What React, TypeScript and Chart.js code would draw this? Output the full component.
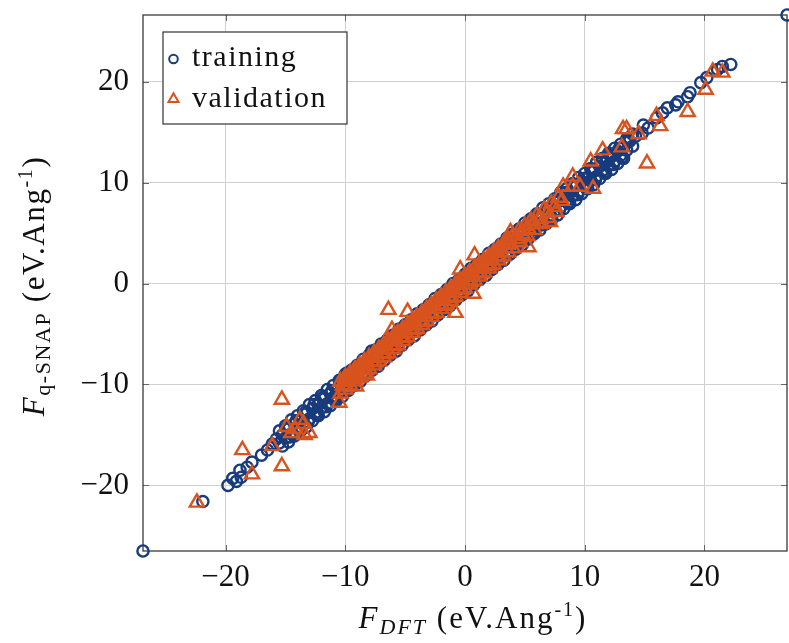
import React, { useEffect, useRef } from "react";
import { Chart, registerables } from "chart.js";

Chart.register(...registerables);

const xTicks = [-20, -10, 0, 10, 20];
const yTicks = [-20, -10, 0, 10, 20];
const xRange = [-26.9, 26.9];
const yRange = [-26.5, 26.6];

const seriesNames = ["training", "validation"];

// sparse / outlying training points
const trainingSparse: [number, number][] = [
  [-26.9, -26.5], [26.9, 26.6], [-21.9, -21.6],
  [-19.8, -20.0], [-19.4, -19.3], [-19.1, -19.6], [-18.8, -18.5], [-18.7, -19.2],
  [-18.2, -18.2], [-17.8, -17.7], [-17.0, -17.0], [-16.5, -16.5], [-16.1, -15.9],
  [-7.8, -6.7], [-9.9, -8.9],
  [14.8, 14.9], [15.3, 15.4], [14.9, 15.7], [16.0, 16.4], [16.5, 16.9], [16.9, 17.4],
  [17.6, 17.7], [17.8, 18.0], [18.6, 18.5], [18.8, 18.9], [19.7, 19.9], [20.2, 20.4],
  [21.1, 21.2], [21.5, 21.5], [22.2, 21.7],
];

// dense training band (read as overlapping strands)
const trainingBandA: [number, number][] = [
  [-15.5, -14.6], [-15.0, -14.1], [-14.5, -13.5], [-14.0, -13.1], [-13.5, -12.6], [-13.0, -12.0],
  [-12.5, -11.6], [-12.0, -11.1], [-11.5, -10.5], [-11.0, -10.1], [-10.5, -9.6], [-10.0, -9.0],
  [-9.5, -8.6], [-9.0, -8.1], [-8.5, -7.5], [-8.0, -7.1], [-7.5, -6.6], [-7.0, -6.0],
  [-6.5, -5.6], [-6.0, -5.1], [-5.5, -4.5], [-5.0, -4.1], [-4.5, -3.6], [-4.0, -3.0],
  [-3.5, -2.6], [-3.0, -2.1], [-2.5, -1.5], [-2.0, -1.1], [-1.5, -0.6], [-1.0, 0.0],
  [-0.5, 0.4], [0.0, 0.9], [0.5, 1.5], [1.0, 1.9], [1.5, 2.4], [2.0, 3.0], [2.5, 3.4],
  [3.0, 3.9], [3.5, 4.5], [4.0, 4.9], [4.5, 5.4], [5.0, 6.0], [5.5, 6.4], [6.0, 6.9],
  [6.5, 7.5], [7.0, 7.9], [7.5, 8.4], [8.0, 9.0], [8.5, 9.4], [9.0, 9.9], [9.5, 10.5],
  [10.0, 10.9], [10.5, 11.4], [11.0, 12.0], [11.5, 12.4], [12.0, 12.9], [12.5, 13.4],
  [13.0, 13.8], [13.5, 14.3], [14.0, 14.8],
];
const trainingBandB: [number, number][] = [
  [-15.75, -15.4], [-15.25, -15.0], [-14.75, -14.4], [-14.25, -13.9], [-13.75, -13.5], [-13.25, -12.9],
  [-12.75, -12.4], [-12.25, -12.0], [-11.75, -11.4], [-11.25, -10.9], [-10.75, -10.5], [-10.25, -9.9],
  [-9.75, -9.4], [-9.25, -9.0], [-8.75, -8.4], [-8.25, -7.9], [-7.75, -7.5], [-7.25, -6.9],
  [-6.75, -6.4], [-6.25, -6.0], [-5.75, -5.4], [-5.25, -4.9], [-4.75, -4.5], [-4.25, -3.9],
  [-3.75, -3.4], [-3.25, -3.0], [-2.75, -2.4], [-2.25, -1.9], [-1.75, -1.5], [-1.25, -0.9],
  [-0.75, -0.4], [-0.25, 0.0], [0.25, 0.6], [0.75, 1.1], [1.25, 1.5], [1.75, 2.1], [2.25, 2.6],
  [2.75, 3.0], [3.25, 3.6], [3.75, 4.1], [4.25, 4.5], [4.75, 5.1], [5.25, 5.6], [5.75, 6.0],
  [6.25, 6.6], [6.75, 7.1], [7.25, 7.5], [7.75, 8.1], [8.25, 8.6], [8.75, 9.0], [9.25, 9.6],
  [9.75, 10.1], [10.25, 10.5], [10.75, 11.1], [11.25, 11.6], [11.75, 12.0], [12.25, 12.6],
  [12.75, 13.1], [13.25, 13.5], [13.75, 14.1], [14.25, 14.6],
];
const trainingBandC: [number, number][] = [
  [-15.5, -15.8], [-15.0, -15.3], [-14.5, -14.9], [-14.0, -14.3], [-13.5, -13.8], [-13.0, -13.4],
  [-12.5, -12.8], [-12.0, -12.3], [-11.5, -11.9], [-11.0, -11.3], [-10.5, -10.8], [-10.0, -10.4],
  [-9.5, -9.8], [-9.0, -9.3], [-8.5, -8.9], [-8.0, -8.3], [-7.5, -7.8], [-7.0, -7.4],
  [-6.5, -6.8], [-6.0, -6.3], [-5.5, -5.9], [-5.0, -5.3], [-4.5, -4.8], [-4.0, -4.4],
  [-3.5, -3.8], [-3.0, -3.3], [-2.5, -2.9], [-2.0, -2.3], [-1.5, -1.8], [-1.0, -1.4],
  [-0.5, -0.8], [0.0, -0.3], [0.5, 0.1], [1.0, 0.7], [1.5, 1.2], [2.0, 1.6], [2.5, 2.2],
  [3.0, 2.7], [3.5, 3.1], [4.0, 3.7], [4.5, 4.2], [5.0, 4.6], [5.5, 5.2], [6.0, 5.7],
  [6.5, 6.1], [7.0, 6.7], [7.5, 7.2], [8.0, 7.6], [8.5, 8.2], [9.0, 8.7], [9.5, 9.1],
  [10.0, 9.7], [10.5, 10.2], [11.0, 10.6], [11.5, 11.2], [12.0, 11.7], [12.5, 12.1],
  [13.0, 12.7], [13.5, 13.2], [14.0, 13.6],
];
const trainingBandD: [number, number][] = [
  [-15.25, -16.1], [-14.75, -15.7], [-14.25, -15.1], [-13.75, -14.6], [-13.25, -14.2], [-12.75, -13.6],
  [-12.25, -13.1], [-11.75, -12.7], [-11.25, -12.1], [-10.75, -11.6], [-10.25, -11.2], [-9.75, -10.6],
  [-9.25, -10.1], [-8.75, -9.7], [-8.25, -9.1], [-7.75, -8.6], [-7.25, -8.2], [-6.75, -7.6],
  [-6.25, -7.1], [-5.75, -6.7], [-5.25, -6.1], [-4.75, -5.6], [-4.25, -5.2], [-3.75, -4.6],
  [-3.25, -4.1], [-2.75, -3.7], [-2.25, -3.1], [-1.75, -2.6], [-1.25, -2.2], [-0.75, -1.6],
  [-0.25, -1.1], [0.25, -0.7], [0.75, -0.1], [1.25, 0.4], [1.75, 0.8], [2.25, 1.4], [2.75, 1.9],
  [3.25, 2.3], [3.75, 2.9], [4.25, 3.4], [4.75, 3.8], [5.25, 4.4], [5.75, 4.9], [6.25, 5.3],
  [6.75, 5.9], [7.25, 6.4], [7.75, 6.8], [8.25, 7.4], [8.75, 7.9], [9.25, 8.3], [9.75, 8.9],
  [10.25, 9.4], [10.75, 9.8], [11.25, 10.4], [11.75, 10.9], [12.25, 11.3], [12.75, 11.9],
  [13.25, 12.4],
];
const trainingBandE: [number, number][] = [
  [-14.9, -14.3], [-14.1, -13.6], [-13.3, -12.7], [-12.6, -12.0], [-11.9, -11.3], [-11.1, -10.6],
  [-10.4, -9.8], [-9.6, -9.0], [-8.9, -8.3], [-8.1, -7.6], [-7.4, -6.8], [-6.6, -6.0],
  [-5.9, -5.3], [-5.1, -4.6], [-4.4, -3.8], [-3.6, -3.0], [-2.9, -2.3], [-2.1, -1.6],
  [-1.4, -0.8], [-0.6, 0.0], [0.1, 0.7], [0.9, 1.4], [1.6, 2.2], [2.4, 3.0], [3.1, 3.7],
  [3.9, 4.4], [4.6, 5.2], [5.4, 6.0], [6.1, 6.7], [6.9, 7.4], [7.6, 8.2], [8.4, 9.0],
  [9.1, 9.7], [9.9, 10.4], [10.6, 11.2], [11.4, 12.0], [12.1, 12.7], [12.9, 13.4], [13.6, 14.2],
];
const trainingBandF: [number, number][] = [
  [-14.6, -15.2], [-13.9, -14.5], [-13.1, -13.7], [-12.4, -13.0], [-11.6, -12.2], [-10.9, -11.5],
  [-10.1, -10.7], [-9.4, -10.0], [-8.6, -9.2], [-7.9, -8.5], [-7.1, -7.7], [-6.4, -7.0],
  [-5.6, -6.2], [-4.9, -5.5], [-4.1, -4.7], [-3.4, -4.0], [-2.6, -3.2], [-1.9, -2.5],
  [-1.1, -1.7], [-0.4, -1.0], [0.4, -0.2], [1.1, 0.5], [1.9, 1.3], [2.6, 2.0], [3.4, 2.8],
  [4.1, 3.5], [4.9, 4.3], [5.6, 5.0], [6.4, 5.8], [7.1, 6.5], [7.9, 7.3], [8.6, 8.0],
  [9.4, 8.8], [10.1, 9.5], [10.9, 10.3], [11.6, 11.0], [12.4, 11.8], [13.1, 12.5],
];

// outlying validation points
const validationSparse: [number, number][] = [
  [-22.4, -21.7], [-18.6, -16.5], [-17.8, -18.9], [-16.1, -16.1], [-15.3, -11.5], [-15.3, -18.1],
  [-14.9, -14.2], [-14.5, -14.8], [-14.2, -14.4], [-13.8, -13.5], [-13.5, -13.9], [-13.4, -15.0],
  [-13.0, -14.8], [-10.5, -11.8], [-9.1, -10.2], [-9.6, -9.4], [-8.2, -9.1], [-8.8, -8.6],
  [-6.4, -2.6], [-4.8, -2.8], [-6.1, -4.6], [-0.8, -2.9], [0.7, -1.0], [0.8, 2.8], [-0.4, 1.4],
  [3.8, 5.1], [5.3, 3.6], [7.1, 6.1], [8.2, 9.6], [9.0, 10.6], [9.0, 9.6], [9.6, 9.6],
  [10.7, 9.4], [10.5, 12.1], [11.5, 13.2], [13.1, 13.5], [13.2, 15.3], [13.5, 15.3],
  [14.5, 14.8], [15.2, 11.9], [16.0, 16.6], [16.3, 15.6], [18.6, 17.0], [20.1, 19.2],
  [20.7, 21.0], [21.5, 20.9],
];

// dense validation band (overlapping strands)
const validationBandA: [number, number][] = [
  [-10.4, -9.7], [-10.0, -9.3], [-9.6, -8.9], [-9.2, -8.5], [-8.8, -8.1], [-8.4, -7.7],
  [-8.0, -7.3], [-7.6, -6.9], [-7.2, -6.5], [-6.8, -6.1], [-6.4, -5.7], [-6.0, -5.3],
  [-5.6, -4.9], [-5.2, -4.5], [-4.8, -4.1], [-4.4, -3.7], [-4.0, -3.3], [-3.6, -2.9],
  [-3.2, -2.5], [-2.8, -2.1], [-2.4, -1.7], [-2.0, -1.3], [-1.6, -0.9], [-1.2, -0.5],
  [-0.8, -0.1], [-0.4, 0.3], [0.0, 0.7], [0.4, 1.1], [0.8, 1.5], [1.2, 1.9], [1.6, 2.3],
  [2.0, 2.7], [2.4, 3.1], [2.8, 3.5], [3.2, 3.9], [3.6, 4.3], [4.0, 4.7], [4.5, 5.2],
  [5.0, 5.7], [5.5, 6.2], [6.0, 6.7], [6.6, 7.3], [7.2, 7.9], [7.8, 8.5],
];
const validationBandB: [number, number][] = [
  [-10.2, -10.1], [-9.8, -9.7], [-9.4, -9.3], [-9.0, -8.9], [-8.6, -8.5], [-8.2, -8.1],
  [-7.8, -7.7], [-7.4, -7.3], [-7.0, -6.9], [-6.6, -6.5], [-6.2, -6.1], [-5.8, -5.7],
  [-5.4, -5.3], [-5.0, -4.9], [-4.6, -4.5], [-4.2, -4.1], [-3.8, -3.7], [-3.4, -3.3],
  [-3.0, -2.9], [-2.6, -2.5], [-2.2, -2.1], [-1.8, -1.7], [-1.4, -1.3], [-1.0, -0.9],
  [-0.6, -0.5], [-0.2, -0.1], [0.2, 0.3], [0.6, 0.7], [1.0, 1.1], [1.4, 1.5], [1.8, 1.9],
  [2.2, 2.3], [2.6, 2.7], [3.0, 3.1], [3.4, 3.5], [3.8, 3.9], [4.3, 4.4], [4.8, 4.9],
  [5.3, 5.4], [5.8, 5.9], [6.3, 6.4], [6.9, 7.0], [7.5, 7.6], [8.1, 8.2],
];
const validationBandC: [number, number][] = [
  [-10.4, -10.9], [-10.0, -10.5], [-9.6, -10.1], [-9.2, -9.7], [-8.8, -9.3], [-8.4, -8.9],
  [-8.0, -8.5], [-7.6, -8.1], [-7.2, -7.7], [-6.8, -7.3], [-6.4, -6.9], [-6.0, -6.5],
  [-5.6, -6.1], [-5.2, -5.7], [-4.8, -5.3], [-4.4, -4.9], [-4.0, -4.5], [-3.6, -4.1],
  [-3.2, -3.7], [-2.8, -3.3], [-2.4, -2.9], [-2.0, -2.5], [-1.6, -2.1], [-1.2, -1.7],
  [-0.8, -1.3], [-0.4, -0.9], [0.0, -0.5], [0.4, -0.1], [0.8, 0.3], [1.2, 0.7], [1.6, 1.1],
  [2.0, 1.5], [2.4, 1.9], [2.8, 2.3], [3.2, 2.7], [3.6, 3.1], [4.0, 3.5], [4.6, 4.1],
  [5.2, 4.7], [5.8, 5.3], [6.4, 5.9], [7.0, 6.5], [7.6, 7.1],
];
const validationBandD: [number, number][] = [
  [-10.1, -9.7], [-9.3, -8.9], [-8.5, -8.1], [-7.7, -7.3], [-6.9, -6.5], [-6.1, -5.7],
  [-5.3, -4.9], [-4.5, -4.1], [-3.7, -3.3], [-2.9, -2.5], [-2.1, -1.7], [-1.3, -0.9],
  [-0.5, -0.1], [0.3, 0.7], [1.1, 1.5], [1.9, 2.3], [2.7, 3.1], [3.5, 3.9],
];
const validationBandE: [number, number][] = [
  [-9.9, -10.2], [-9.1, -9.4], [-8.3, -8.6], [-7.5, -7.8], [-6.7, -7.0], [-5.9, -6.2],
  [-5.1, -5.4], [-4.3, -4.6], [-3.5, -3.8], [-2.7, -3.0], [-1.9, -2.2], [-1.1, -1.4],
  [-0.3, -0.6], [0.5, 0.2], [1.3, 1.0], [2.1, 1.8], [2.9, 2.6],
];

const trainingPoints = [
  ...trainingSparse, ...trainingBandA, ...trainingBandB, ...trainingBandC,
  ...trainingBandD, ...trainingBandE, ...trainingBandF,
];
const validationPoints = [
  ...validationSparse, ...validationBandA, ...validationBandB, ...validationBandC,
  ...validationBandD, ...validationBandE,
];

const BLUE = "#173b7c";
const ORANGE = "#d9531e";
const FONT = "'Liberation Serif', 'DejaVu Serif', serif";

const fmt = (v: number) => (v < 0 ? "\u2212" + Math.abs(v) : String(v));

type Piece = { t: string; size: number; italic?: boolean; dy: number };

function drawPieces(ctx: any, pieces: Piece[], cx: number, baseline: number, spacing: number) {
  ctx.letterSpacing = spacing + "px";
  let total = 0;
  for (const p of pieces) {
    ctx.font = `${p.italic ? "italic " : ""}${p.size}px ${FONT}`;
    total += ctx.measureText(p.t).width;
  }
  let x = cx - total / 2;
  ctx.textAlign = "left";
  ctx.textBaseline = "alphabetic";
  for (const p of pieces) {
    ctx.font = `${p.italic ? "italic " : ""}${p.size}px ${FONT}`;
    ctx.fillText(p.t, x, baseline + p.dy);
    x += ctx.measureText(p.t).width;
  }
  ctx.letterSpacing = "0px";
}

const decorPlugin = {
  id: "decor",
  beforeDatasetsDraw(chart: any) {
    const { ctx, chartArea } = chart;
    const { left, right, top, bottom } = chartArea;
    const xs = chart.scales.x;
    const ys = chart.scales.y;
    ctx.save();
    ctx.strokeStyle = "#666";
    ctx.lineWidth = 1;
    for (const v of xTicks) {
      const px = Math.round(xs.getPixelForValue(v)) + 0.5;
      ctx.beginPath();
      ctx.moveTo(px, bottom);
      ctx.lineTo(px, bottom - 6);
      ctx.moveTo(px, top);
      ctx.lineTo(px, top + 6);
      ctx.stroke();
    }
    for (const v of yTicks) {
      const py = Math.round(ys.getPixelForValue(v)) + 0.5;
      ctx.beginPath();
      ctx.moveTo(left, py);
      ctx.lineTo(left + 6, py);
      ctx.moveTo(right, py);
      ctx.lineTo(right - 6, py);
      ctx.stroke();
    }
    ctx.strokeStyle = "#3a3a3a";
    ctx.lineWidth = 1.3;
    ctx.strokeRect(left, top, right - left, bottom - top);
    ctx.restore();
  },
  afterDraw(chart: any) {
    const { ctx } = chart;
    ctx.save();
    ctx.fillStyle = "#111";
    // x title
    drawPieces(
      ctx,
      [
        { t: "F", size: 31, italic: true, dy: 0 },
        { t: "DFT", size: 22, italic: true, dy: 6 },
        { t: " (eV.Ang", size: 31, dy: 0 },
        { t: "-1", size: 20, dy: -12 },
        { t: ")", size: 31, dy: 0 },
      ],
      473,
      628,
      2
    );
    // y title
    ctx.save();
    ctx.translate(44, 286);
    ctx.rotate(-Math.PI / 2);
    drawPieces(
      ctx,
      [
        { t: "F", size: 31, italic: true, dy: 0 },
        { t: "q-SNAP", size: 22, dy: 6 },
        { t: " (eV.Ang", size: 31, dy: 0 },
        { t: "-1", size: 20, dy: -12 },
        { t: ")", size: 31, dy: 0 },
      ],
      0,
      0,
      1.6
    );
    ctx.restore();
    // legend
    const bx = 163, by = 32, bw = 184, bh = 92;
    ctx.fillStyle = "#fff";
    ctx.fillRect(bx, by, bw, bh);
    ctx.strokeStyle = "#333";
    ctx.lineWidth = 1.2;
    ctx.strokeRect(bx, by, bw, bh);
    ctx.lineWidth = 2;
    ctx.strokeStyle = BLUE;
    ctx.beginPath();
    ctx.arc(173.5, 59, 4.3, 0, Math.PI * 2);
    ctx.stroke();
    ctx.strokeStyle = ORANGE;
    ctx.beginPath();
    const tr = 5.8, tcx = 173.5, tcy = 99;
    ctx.moveTo(tcx, tcy - tr);
    ctx.lineTo(tcx + tr * 0.866, tcy + tr * 0.5);
    ctx.lineTo(tcx - tr * 0.866, tcy + tr * 0.5);
    ctx.closePath();
    ctx.stroke();
    ctx.fillStyle = "#111";
    ctx.font = `30px ${FONT}`;
    ctx.letterSpacing = "1.5px";
    ctx.textAlign = "left";
    ctx.textBaseline = "alphabetic";
    ctx.fillText(seriesNames[0], 192, 66);
    ctx.fillText(seriesNames[1], 192, 107);
    ctx.letterSpacing = "0px";
    ctx.restore();
  },
};

export default function App() {
  const ref = useRef<HTMLCanvasElement | null>(null);
  useEffect(() => {
    if (!ref.current) return;
    const chart = new Chart(ref.current, {
      type: "scatter",
      data: {
        datasets: [
          {
            label: seriesNames[0],
            data: trainingPoints.map(([x, y]) => ({ x, y })),
            pointStyle: "circle",
            pointRadius: 5.6,
            borderWidth: 2.4,
            borderColor: BLUE,
            backgroundColor: "rgba(0,0,0,0)",
            order: 2,
            clip: false as any,
          },
          {
            label: seriesNames[1],
            data: validationPoints.map(([x, y]) => ({ x, y })),
            pointStyle: "triangle",
            pointRadius: 8.2,
            borderWidth: 2.4,
            borderColor: ORANGE,
            backgroundColor: "rgba(0,0,0,0)",
            order: 1,
            clip: false as any,
          },
        ],
      },
      options: {
        animation: false,
        responsive: false,
        devicePixelRatio: 1,
        layout: { autoPadding: false, padding: { left: 0, top: 15, right: 2, bottom: 0 } },
        plugins: { legend: { display: false }, tooltip: { enabled: false } },
        scales: {
          x: {
            type: "linear",
            min: xRange[0],
            max: xRange[1],
            afterBuildTicks: (s: any) => {
              s.ticks = xTicks.map((v) => ({ value: v }));
            },
            afterFit: (s: any) => {
              s.height = 92;
              s.paddingLeft = 0;
              s.paddingRight = 0;
              s.paddingTop = 0;
              s.paddingBottom = 0;
            },
            grid: { color: "#d0d0d0", lineWidth: 1, drawTicks: false },
            border: { display: false },
            ticks: {
              padding: 8,
              color: "#111",
              font: { family: FONT, size: 31 },
              callback: (v: any) => fmt(Number(v)),
              maxRotation: 0,
              autoSkip: false,
            },
          },
          y: {
            type: "linear",
            min: yRange[0],
            max: yRange[1],
            afterBuildTicks: (s: any) => {
              s.ticks = yTicks.map((v) => ({ value: v }));
            },
            afterFit: (s: any) => {
              s.width = 143;
              s.paddingLeft = 0;
              s.paddingRight = 0;
              s.paddingTop = 0;
              s.paddingBottom = 0;
            },
            grid: { color: "#d0d0d0", lineWidth: 1, drawTicks: false },
            border: { display: false },
            ticks: {
              padding: 14,
              color: "#111",
              font: { family: FONT, size: 31 },
              callback: (v: any) => fmt(Number(v)),
              autoSkip: false,
            },
          },
        },
      },
      plugins: [decorPlugin],
    });
    return () => chart.destroy();
  }, []);
  return (
    <div style={{ position: "absolute", left: 0, top: 0, width: 789, height: 643, background: "#fff" }}>
      <canvas ref={ref} width={789} height={643} style={{ display: "block" }} />
    </div>
  );
}
